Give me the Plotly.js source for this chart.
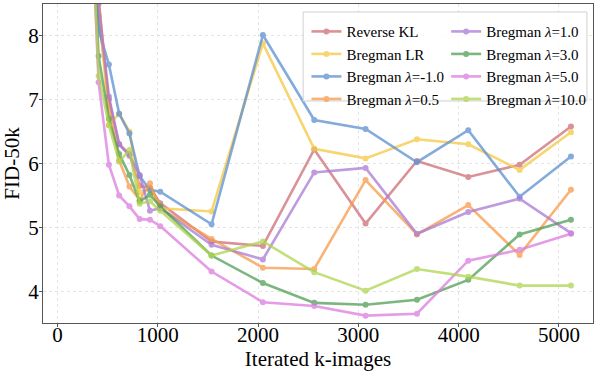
<!DOCTYPE html>
<html>
<head>
<meta charset="utf-8">
<script src="https://cdn.plot.ly/plotly-3.0.1.min.js"></script>
<style>
  html, body { margin: 0; padding: 0; background: #fff; }
  #chart { width: 598px; height: 376px; }
</style>
</head>
<body>
<div id="chart"></div>
<script>
// iterated k-images
const steps = [307.2, 409.6, 512, 614.4, 716.8, 819.2, 921.6, 1024, 1536, 2048, 2560, 3072, 3584, 4096, 4608, 5120];

const reverseKL = [12.0, 8.3, 7.0, 6.3, 6.15, 5.65, 5.62, 5.38, 4.78, 4.71, 6.22, 5.06, 6.04, 5.79, 5.98, 6.58];
const bregmanLR = [12.5, 8.6, 6.6, 6.78, 6.5, 5.55, 5.6, 5.3, 5.25, 7.88, 6.23, 6.08, 6.38, 6.30, 5.90, 6.49];
const lamNeg1 = [12.0, 8.09, 7.55, 6.78, 6.47, 5.8, 5.59, 5.56, 5.05, 8.01, 6.68, 6.54, 6.02, 6.52, 5.48, 6.11];
const lam05 = [12.0, 8.6, 6.9, 6.05, 5.64, 5.43, 5.69, 5.3, 4.82, 4.37, 4.35, 5.74, 4.89, 5.35, 4.57, 5.59];
const lam1 = [12.0, 8.5, 7.05, 6.3, 6.12, 5.82, 5.26, 5.3, 4.73, 4.50, 5.86, 5.93, 4.90, 5.24, 5.45, 4.91];
const lam3 = [11.0, 7.68, 6.7, 6.15, 5.82, 5.41, 5.51, 5.33, 4.56, 4.13, 3.82, 3.79, 3.87, 4.18, 4.89, 5.12];
const lam5 = [11.0, 7.27, 5.98, 5.50, 5.33, 5.13, 5.12, 5.02, 4.31, 3.83, 3.77, 3.62, 3.65, 4.48, 4.65, 4.90];
const lam10 = [11.0, 7.37, 6.6, 6.03, 6.21, 5.37, 5.41, 5.26, 4.56, 4.78, 4.30, 4.01, 4.35, 4.23, 4.09, 4.09];

const names = ['Reverse KL', 'Bregman LR', 'Bregman <i>λ</i>=-1.0', 'Bregman <i>λ</i>=0.5',
               'Bregman <i>λ</i>=1.0', 'Bregman <i>λ</i>=3.0', 'Bregman <i>λ</i>=5.0', 'Bregman <i>λ</i>=10.0'];
const series = [reverseKL, bregmanLR, lamNeg1, lam05, lam1, lam3, lam5, lam10];
const colors = ['#cd6e76', '#f5c842', '#5b8fd1', '#f89a4a', '#a97ad4', '#4f9e55', '#dc7ce0', '#afd54f'];

// two legend columns, like matplotlib's ncol=2
const traces = series.map((ys, i) => ({
    name: names[i],
    type: 'scatter',
    mode: 'lines+markers',
    x: steps,
    y: ys,
    opacity: 0.75,
    legend: i < 4 ? 'legend' : 'legend2',
    line: { color: colors[i], width: 2.6 },
    marker: { color: colors[i], size: 6 }
}));

const font = 'Liberation Serif, Times New Roman, serif';

const legendBase = {
    y: 0.965, xanchor: 'left', yanchor: 'top',
    bgcolor: 'rgba(0,0,0,0)',
    borderwidth: 0,
    font: { size: 15, family: font },
    tracegroupgap: 0,
    itemwidth: 30
};

const layout = {
    width: 598,
    height: 376,
    margin: { l: 43, r: 5, t: 4, b: 53, autoexpand: false },
    paper_bgcolor: '#fff',
    plot_bgcolor: '#fff',
    font: { family: font, color: '#000' },
    showlegend: true,
    legend: Object.assign({ x: 0.479 }, legendBase),
    legend2: Object.assign({ x: 0.733 }, legendBase),
    shapes: [{
        type: 'rect', xref: 'paper', yref: 'paper', layer: 'above',
        x0: 0.473, x1: 0.989, y0: 0.696, y1: 0.975,
        line: { color: '#d0d0d0', width: 1 },
        fillcolor: 'rgba(255,255,255,0.85)'
    }],
    xaxis: {
        range: [-145, 5340],
        tickvals: [0, 1000, 2000, 3000, 4000, 5000],
        tickfont: { size: 21 },
        ticklabelstandoff: -10,
        title: { text: 'Iterated k-images', font: { size: 21 }, standoff: 0 },
        showline: true, mirror: true, linecolor: '#555', linewidth: 1,
        ticks: 'outside', ticklen: 3, tickcolor: '#555',
        showgrid: true, gridcolor: '#e4e4e4', griddash: 'dot', gridwidth: 1,
        zeroline: false
    },
    yaxis: {
        range: [3.505, 8.495],
        tickvals: [4, 5, 6, 7, 8],
        tickfont: { size: 21 },
        ticklabelstandoff: -4,
        title: { text: 'FID-50k', font: { size: 21 }, standoff: 8 },
        showline: true, mirror: true, linecolor: '#555', linewidth: 1,
        ticks: 'outside', ticklen: 3, tickcolor: '#555',
        showgrid: true, gridcolor: '#e4e4e4', griddash: 'dot', gridwidth: 1,
        zeroline: false
    }
};

Plotly.newPlot('chart', traces, layout, { displayModeBar: false, staticPlot: true });
</script>
</body>
</html>
